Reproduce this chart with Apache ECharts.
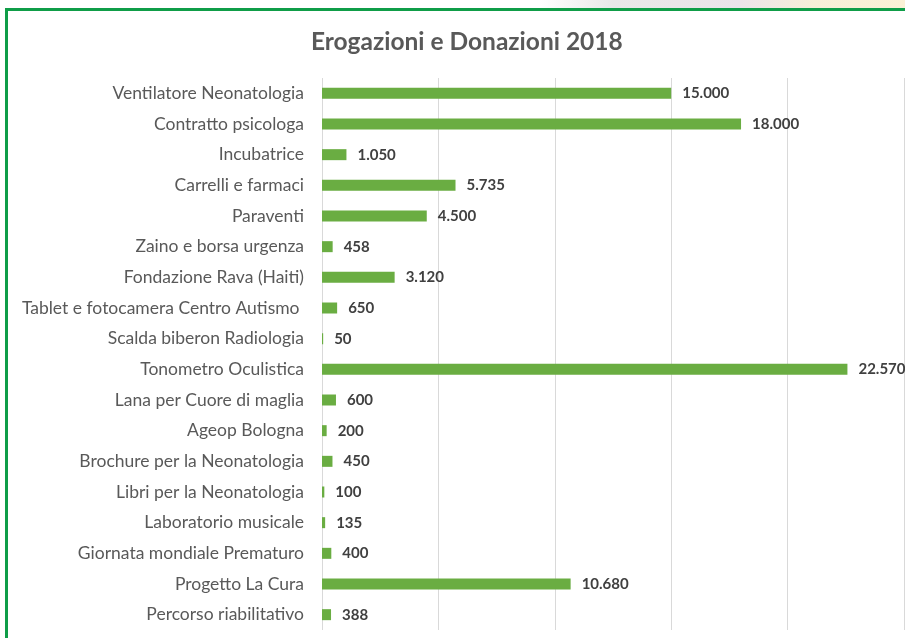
<!DOCTYPE html>
<html lang="it">
<head>
<meta charset="UTF-8">
<title>Erogazioni e Donazioni 2018</title>
<style>
    body { margin: 0; background: #fff; }
    .topstrip {
        position: absolute; left: 540px; top: 0; width: 365px; height: 9px;
        background: linear-gradient(90deg, #ffffff 0%, #e8e8e8 20%, #ece4ea 55%, #f7efd8 75%, #fbf1d6 100%);
    }
    .frame {
        position: absolute; left: 5px; top: 8px; width: 1000px; height: 700px;
        border-top: 3px solid #0f9d48; border-left: 3px solid #0f9d48;
    }
    #chart { position: absolute; left: 0; top: 0; width: 905px; height: 638px; }
</style>
</head>
<body>
<div class="topstrip"></div>
<div class="frame"></div>
<div id="chart"></div>
<script src="https://cdn.jsdelivr.net/npm/echarts@6/dist/echarts.min.js"></script>
<script>
    // voci (dall'alto verso il basso)
    const categories = [
        'Ventilatore Neonatologia',
        'Contratto psicologa',
        'Incubatrice',
        'Carrelli e farmaci',
        'Paraventi',
        'Zaino e borsa urgenza',
        'Fondazione Rava (Haiti)',
        'Tablet e fotocamera Centro Autismo ',
        'Scalda biberon Radiologia',
        'Tonometro Oculistica',
        'Lana per Cuore di maglia',
        'Ageop Bologna',
        'Brochure per la Neonatologia',
        'Libri per la Neonatologia',
        'Laboratorio musicale',
        'Giornata mondiale Prematuro',
        'Progetto La Cura',
        'Percorso riabilitativo'
    ];
    // importi in euro
    const amounts = [15000, 18000, 1050, 5735, 4500, 458, 3120, 650, 50, 22570, 600, 200, 450, 100, 135, 400, 10680, 388];
    const xTicks = [0, 5000, 10000, 15000, 20000, 25000];

    // separatore delle migliaia col punto
    function fmt(v) {
        return String(v).replace(/\B(?=(\d{3})+(?!\d))/g, '.');
    }

    const chart = echarts.init(document.getElementById('chart'));
    chart.setOption({
        animation: false,
        title: {
            text: 'Erogazioni e Donazioni 2018',
            left: 306,
            top: 25,
            textStyle: { fontFamily: 'Lato', fontSize: 24.5, fontWeight: 'bold', color: '#595959' }
        },
        grid: { left: 322, top: 78, width: 582, height: 552 },
        xAxis: {
            type: 'value',
            min: xTicks[0],
            max: xTicks[xTicks.length - 1],
            interval: xTicks[1] - xTicks[0],
            axisLabel: { show: false },
            axisLine: { show: false },
            axisTick: { show: false },
            splitLine: { show: true, lineStyle: { color: '#d9d9d9', width: 1 } }
        },
        yAxis: {
            type: 'category',
            inverse: true,
            data: categories,
            axisLine: { show: false },
            axisTick: { show: false },
            axisLabel: { fontFamily: 'Lato', fontSize: 17.5, color: '#595959', margin: 18 }
        },
        series: [{
            type: 'bar',
            data: amounts,
            barWidth: 11,
            itemStyle: { color: '#6aad42' },
            label: {
                show: true,
                position: 'right',
                distance: 11,
                formatter: p => fmt(p.value),
                fontFamily: 'Lato',
                fontSize: 15,
                fontWeight: 'bold',
                color: '#404040'
            }
        }]
    });
</script>
</body>
</html>
